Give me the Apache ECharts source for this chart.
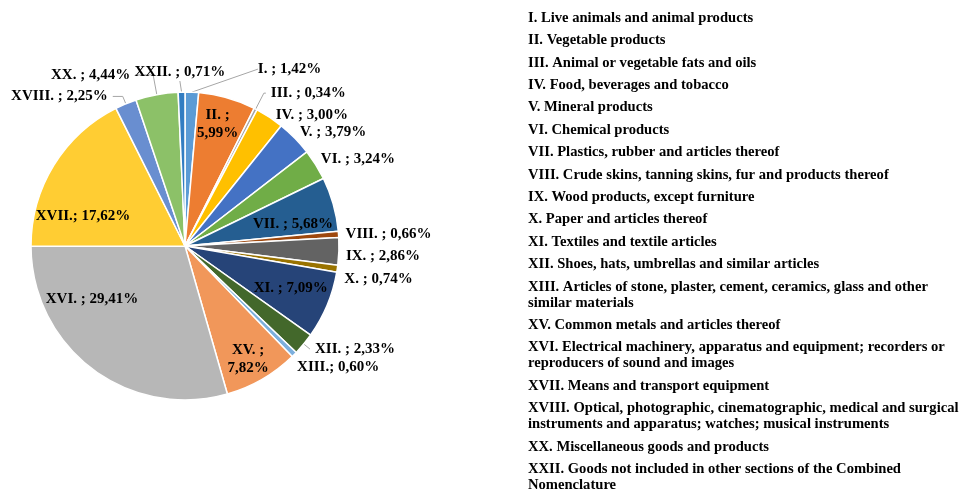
<!DOCTYPE html>
<html>
<head>
<meta charset="utf-8">
<script src="https://cdn.jsdelivr.net/npm/echarts@6/dist/echarts.min.js"></script>
<style>
  html, body { margin: 0; padding: 0; background: #fff; }
  #chart { width: 965px; height: 493px; }
</style>
</head>
<body>
<div id="chart"></div>
<script>
// sections of the Combined Nomenclature, clockwise from 12 o'clock
const codes = ['I.', 'II.', 'III.', 'IV.', 'V.', 'VI.', 'VII.', 'VIII.', 'IX.', 'X.', 'XI.', 'XII.', 'XIII.', 'XV.', 'XVI.', 'XVII.', 'XVIII.', 'XX.', 'XXII.']
const shares = [1.42, 5.99, 0.34, 3.00, 3.79, 3.24, 5.68, 0.66, 2.86, 0.74, 7.09, 2.33, 0.60, 7.82, 29.41, 17.62, 2.25, 4.44, 0.71]
const descriptions = [
  'Live animals and animal products',
  'Vegetable products',
  'Animal or vegetable fats and oils',
  'Food, beverages and tobacco',
  'Mineral products',
  'Chemical products',
  'Plastics, rubber and articles thereof',
  'Crude skins, tanning skins, fur and products thereof',
  'Wood products, except furniture',
  'Paper and articles thereof',
  'Textiles and textile articles',
  'Shoes, hats, umbrellas and similar articles',
  'Articles of stone, plaster, cement, ceramics, glass and other\nsimilar materials',
  'Common metals and articles thereof',
  'Electrical machinery, apparatus and equipment; recorders or\nreproducers of sound and images',
  'Means and transport equipment',
  'Optical, photographic, cinematographic, medical and surgical\ninstruments and apparatus; watches; musical instruments',
  'Miscellaneous goods and products',
  'Goods not included in other sections of the Combined\nNomenclature'
]
const colors = ['#5B9BD5', '#ED7D31', '#A5A5A5', '#FFC000', '#4472C4', '#70AD47', '#255E91', '#9E480E', '#636363', '#997300',
  '#264478', '#43682B', '#7CAFDD', '#F1975A', '#B7B7B7', '#FFCD33', '#698ED0', '#8CC168', '#327DC2']

// labels drawn on the slice, labels written without the space before ';', labels broken on two lines
const insideLabels = ['II.', 'VII.', 'XI.', 'XV.', 'XVI.', 'XVII.']
const tightLabels = ['XIII.', 'XVII.']
const wrappedLabels = ['II.', 'XV.']
// outside labels: [length, length2, show line]
const labelLines = {
  'I.': [0, 0, true], 'III.': [18, 2, true], 'IV.': [2, 0], 'V.': [0, 0], 'VI.': [0, 0],
  'VIII.': [2, 0], 'IX.': [2, 0], 'X.': [2, 0], 'XII.': [8, 0, true], 'XIII.': [4, 2],
  'XVIII.': [8, 10, true], 'XX.': [20, 18, true], 'XXII.': [12, 0, true]
}
// small hand moves of label boxes, like the spreadsheet's manual placement
const labelNudge = {
  'I.': [61, -23], 'XXII.': [49, -8], 'XIII.': [-7, 10], 'V.': [0, -6], 'VI.': [0, -6], 'IX.': [0, 5], 'X.': [0, 10],
  'XVI.': [-28, -33], 'XVII.': [-10, 27], 'VII.': [4, 7], 'XI.': [6, 1], 'II.': [3, -18], 'XV.': [9, 20]
}

const center = [185, 246]
const radius = 154
const serif = 'Liberation Serif'

function pct(v) {
  return v.toFixed(2).replace('.', ',') + '%'
}

const pieData = codes.map((code, i) => {
  const inside = insideLabels.includes(code)
  const line = labelLines[code] || [0, 0]
  return {
    name: code,
    value: shares[i],
    itemStyle: { color: colors[i] },
    label: { position: inside ? 'inside' : 'outside' },
    labelLine: { show: !!line[2], length: line[0], length2: line[1] }
  }
})

const chart = echarts.init(document.getElementById('chart'))
chart.setOption({
  animation: false,
  legend: {
    orient: 'vertical',
    left: 523,
    top: 10,
    height: 520,
    padding: 0,
    icon: 'none',
    itemWidth: 0,
    itemHeight: 14,
    itemGap: 6.4,
    selectedMode: false,
    data: codes,
    formatter: function(name) {
      return name + ' ' + descriptions[codes.indexOf(name)]
    },
    textStyle: {
      fontFamily: serif,
      fontWeight: 'bold',
      fontSize: 14.6,
      lineHeight: 16,
      color: '#000'
    }
  },
  series: [{
    type: 'pie',
    center: center,
    radius: radius,
    startAngle: 90,
    clockwise: true,
    avoidLabelOverlap: false,
    itemStyle: { borderColor: '#fff', borderWidth: 1.5 },
    label: {
      fontFamily: serif,
      fontWeight: 'bold',
      fontSize: 15,
      lineHeight: 18,
      color: '#000',
      overflow: 'none',
      formatter: function(p) {
        const sep = tightLabels.includes(p.name) ? '; ' : ' ; '
        const brk = wrappedLabels.includes(p.name)
        return brk ? p.name + ' ;\n' + pct(p.value) : p.name + sep + pct(p.value)
      }
    },
    labelLine: {
      lineStyle: { color: '#A6A6A6', width: 1 }
    },
    labelLayout: function(params) {
      const code = codes[params.dataIndex]
      const inside = insideLabels.includes(code)
      const nudge = labelNudge[code]
      if (!inside && !nudge) return {}
      const r = params.labelRect
      let x = r.x + r.width / 2
      let y = r.y + r.height / 2
      if (inside) {
        // push the inner labels a bit further out from the centre
        x = center[0] + (x - center[0]) * 1.35
        y = center[1] + (y - center[1]) * 1.35
      }
      if (nudge) {
        x += nudge[0]
        y += nudge[1]
      }
      return { x: x, y: y, align: 'center', verticalAlign: 'middle' }
    },
    data: pieData
  }]
})
</script>
</body>
</html>
